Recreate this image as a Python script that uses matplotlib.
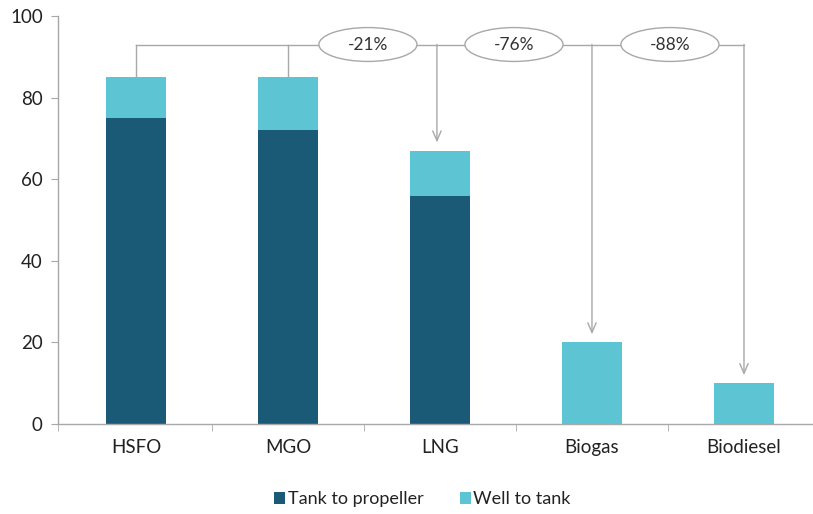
import matplotlib
matplotlib.use("Agg")
import matplotlib.pyplot as plt
from matplotlib.patches import Ellipse

plt.rcParams['font.family'] = ['Lato', 'DejaVu Sans']

categories = ["HSFO", "MGO", "LNG", "Biogas", "Biodiesel"]
tank_to_propeller = [75, 72, 56, 0, 0]
well_to_tank = [10, 13, 11, 20, 10]
reductions = ["-21%", "-76%", "-88%"]

dark = "#1b5a77"
light = "#5cc4d3"
gray = "#a8a8a8"

fig = plt.figure(figsize=(8.13, 5.14), dpi=100)
ax = fig.add_axes([0.0713, 0.175, 0.9287, 0.794])

x = list(range(len(categories)))
ax.bar(x, tank_to_propeller, width=0.395, color=dark, label="Tank to propeller", zorder=2)
ax.bar(x, well_to_tank, width=0.395, bottom=tank_to_propeller, color=light, label="Well to tank", zorder=2)

totals = [a + b for a, b in zip(tank_to_propeller, well_to_tank)]

xmin, xmax = -0.513, 4.454
ax.set_xlim(xmin, xmax)
ax.set_ylim(0, 100)
ax.set_yticks([0, 20, 40, 60, 80, 100])
ax.set_xticks(x)
ax.set_xticklabels(categories)
ax.set_xticks([xmin] + [i + 0.5 for i in range(4)], minor=True)
ax.tick_params(axis='x', which='major', length=0, pad=11, labelsize=13.5, colors="#222222")
ax.tick_params(axis='x', which='minor', length=5, color=gray)
ax.tick_params(axis='y', length=5, color=gray, labelsize=13.5, colors="#222222", pad=6)
for side in ["top", "right"]:
    ax.spines[side].set_visible(False)
for side in ["left", "bottom"]:
    ax.spines[side].set_color(gray)
    ax.spines[side].set_linewidth(1.0)

# bracket annotation
yb = 93
lw = 1.0
ax.plot([x[0], x[4]], [yb, yb], color=gray, lw=lw, zorder=1, clip_on=False)
ax.plot([x[0], x[0]], [totals[0], yb], color=gray, lw=lw, zorder=1)
ax.plot([x[1], x[1]], [totals[1], yb], color=gray, lw=lw, zorder=1)
for i in [2, 3, 4]:
    xa = x[i] - (0.02 if i == 2 else 0)
    ax.annotate("", xy=(xa, totals[i] + 2), xytext=(xa, yb),
                arrowprops=dict(arrowstyle="->,head_length=0.7,head_width=0.3",
                                color=gray, lw=lw, shrinkA=0, shrinkB=0), zorder=1)

ell_x = [1.526, 2.487, 3.513]
for ex, txt in zip(ell_x, reductions):
    e = Ellipse((ex, yb), width=0.645, height=8.3, facecolor="white",
                edgecolor=gray, lw=1.0, zorder=3, clip_on=False)
    ax.add_patch(e)
    ax.text(ex, yb, txt, ha="center", va="center", fontsize=12.5, color="#333333", zorder=4)

leg = ax.legend(loc="upper center", bbox_to_anchor=(0.483, -0.125), ncol=2, frameon=False,
                fontsize=13, handlelength=0.6, handleheight=0.6, handletextpad=0.15,
                columnspacing=2.0)
for t in leg.get_texts():
    t.set_color("#222222")

fig.savefig("out.png", dpi=100)
